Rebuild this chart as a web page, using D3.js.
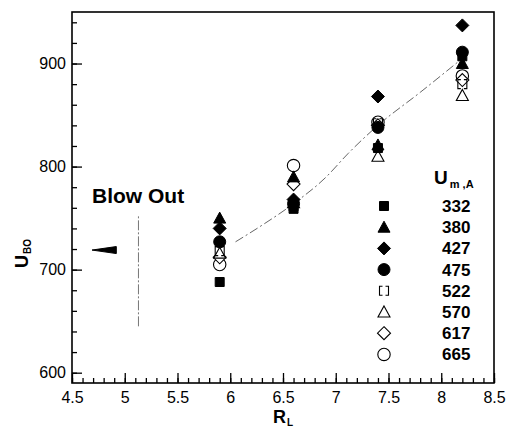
<!DOCTYPE html>
<html><head><meta charset="utf-8">
<script src="https://cdn.jsdelivr.net/npm/d3@7"></script>
<style>
body{margin:0;background:#fff;}
svg{display:block;font-family:"Liberation Sans",Arial,Helvetica,sans-serif;}
</style></head>
<body><svg id="chart" width="509" height="428"></svg>
<script>
// ---- data ----
const rl = [5.9, 6.6, 7.4, 8.2];
const u332 = [688, 759, 818, 907];
const u380 = [750, 790, 821, 900];
const u427 = [740, 768, 868, 937];
const u475 = [727, 764, 838, 911];
const u522 = [718, 762, 842, 880];
const u570 = [716, 765, 810, 869];
const u617 = [712, 783, 840, 884];
const u665 = [705, 801, 843, 888];
const seriesNames = ["332", "380", "427", "475", "522", "570", "617", "665"];
const seriesValues = [u332, u380, u427, u475, u522, u570, u617, u665];
const seriesShapes = ["fsquare", "ftri", "fdiamond", "fcircle", "osquare", "otri", "odiamond", "ocircle"];
const fitX = [6.05, 6.3, 6.6, 6.9, 7.12, 7.4, 7.8, 8.2];
const fitY = [727, 743, 764, 789, 813, 840, 872, 905];
const xTicks = [4.5, 5, 5.5, 6, 6.5, 7, 7.5, 8, 8.5];
const yTicks = [600, 700, 800, 900];
const blowArrowY = 719, blowLineX = 5.13, blowLineY = [645, 753];

// ---- layout ----
const svg = d3.select("#chart");
const L = 72, R = 494, T = 12, B = 383;
const x = d3.scaleLinear().domain([4.5, 8.5]).range([L, R]);
const y = d3.scaleLinear().domain([590, 950]).range([B, T]);

// minor ticks
svg.append("g").attr("transform", `translate(0,${B})`)
  .call(d3.axisBottom(x).tickValues(d3.range(45, 86).map(d => d / 10)).tickSize(-5).tickFormat(""))
  .call(g => g.select(".domain").remove());
svg.append("g").attr("transform", `translate(${L},0)`)
  .call(d3.axisLeft(y).tickValues(d3.range(600, 951, 20)).tickSize(-5).tickFormat(""))
  .call(g => g.select(".domain").remove());
// major ticks
const xa = svg.append("g").attr("transform", `translate(0,${B})`)
  .call(d3.axisBottom(x).tickValues(xTicks).tickSize(-10).tickPadding(9).tickFormat(d3.format("")));
const ya = svg.append("g").attr("transform", `translate(${L},0)`)
  .call(d3.axisLeft(y).tickValues(yTicks).tickSize(-10).tickPadding(6));
[xa, ya].forEach(g => {
  g.select(".domain").remove();
  g.selectAll("text").attr("font-size", 16).attr("fill", "#000").attr("font-family", "Liberation Sans, Arial, sans-serif");
});
svg.selectAll("g line").attr("stroke", "#000").attr("stroke-width", 1.3);
// frame
svg.append("rect").attr("x", L).attr("y", T).attr("width", R - L).attr("height", B - T)
  .attr("fill", "none").attr("stroke", "#000").attr("stroke-width", 1.6);

// fit curve
svg.append("path")
  .datum(fitX.map((v, i) => [v, fitY[i]]))
  .attr("d", d3.line().x(d => x(d[0])).y(d => y(d[1])).curve(d3.curveMonotoneX))
  .attr("fill", "none").attr("stroke", "#666").attr("stroke-width", 1)
  .attr("stroke-dasharray", "9,3,2,3");

// blow out annotation
svg.append("text").attr("x", 92).attr("y", 203).attr("font-size", 21).attr("font-weight", "bold").text("Blow Out");
svg.append("path")
  .attr("d", `M${x(4.69)},${y(blowArrowY)} L${x(4.92)},${y(blowArrowY) - 3.5} L${x(4.92)},${y(blowArrowY) + 3.5} Z`)
  .attr("fill", "#000").attr("stroke", "#000").attr("stroke-width", 1);
svg.append("line")
  .attr("x1", x(blowLineX)).attr("x2", x(blowLineX)).attr("y1", y(blowLineY[0])).attr("y2", y(blowLineY[1]))
  .attr("stroke", "#777").attr("stroke-width", 1).attr("stroke-dasharray", "10,2,2,2");

// markers
function symbolPath(shape) {
  switch (shape) {
    case "fsquare": return "M-4.5,-4.5H4.5V4.5H-4.5Z";
    case "ftri": case "otri": return "M0,-6L6,5H-6Z";
    case "fdiamond": case "odiamond": return "M0,-6.5L6.5,0L0,6.5L-6.5,0Z";
    case "fcircle": return "M-6,0A6,6 0 1,0 6,0A6,6 0 1,0 -6,0Z";
    case "ocircle": return "M-6.2,0A6.2,6.2 0 1,0 6.2,0A6.2,6.2 0 1,0 -6.2,0Z";
    case "osquare": return "M-1.5,-4.5H-4.5V4.5H-1.5M1.5,-4.5H4.5V4.5H1.5";
  }
}
function drawMarker(g, shape, cx, cy) {
  const filled = shape[0] === "f";
  g.append("path").attr("d", symbolPath(shape))
    .attr("transform", `translate(${cx},${cy})`)
    .attr("fill", filled ? "#000" : (shape === "osquare" ? "none" : "#fff"))
    .attr("stroke", "#000").attr("stroke-width", filled ? 1 : 1.1);
}
const mg = svg.append("g");
for (let s = seriesValues.length - 1; s >= 0; s--) {
  seriesValues[s].forEach((v, i) => drawMarker(mg, seriesShapes[s], x(rl[i]), y(v)));
}

// legend
const lg = svg.append("g");
const h = lg.append("text").attr("x", 434).attr("y", 184).attr("font-weight", "bold");
h.append("tspan").attr("font-size", 19).text("U");
h.append("tspan").attr("font-size", 11).attr("dy", 4).attr("dx", 2).text("m ,A");
seriesNames.forEach((n, i) => {
  const cy = 206 + i * 21.2;
  drawMarker(lg, seriesShapes[i], 384, cy);
  lg.append("text").attr("x", 442).attr("y", cy + 6).attr("font-size", 17).attr("font-weight", "bold").text(n);
});

// axis titles
const xt = svg.append("text").attr("x", 273).attr("y", 423).attr("font-weight", "bold");
xt.append("tspan").attr("font-size", 18).text("R");
xt.append("tspan").attr("font-size", 10).attr("dy", 3).attr("dx", 1).text("L");
const yt = svg.append("text").attr("transform", "translate(28,268) rotate(-90)").attr("font-weight", "bold");
yt.append("tspan").attr("font-size", 18).text("U");
yt.append("tspan").attr("font-size", 10).attr("dy", 3).attr("dx", 1).text("BO");
</script></body></html>
